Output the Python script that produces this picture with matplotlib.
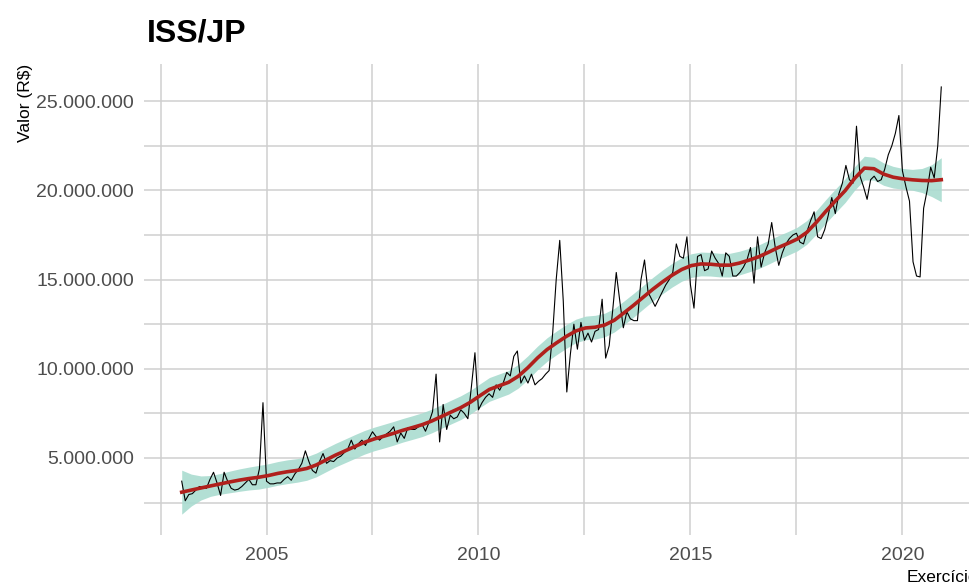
import numpy as np
import matplotlib
matplotlib.use('Agg')
import matplotlib.pyplot as plt
from matplotlib.ticker import FuncFormatter, MultipleLocator

plt.rcParams['font.family'] = ['Liberation Sans', 'DejaVu Sans']

# Arrecadação mensal de ISS (milhões de R$), jan/2003 a dez/2020
ANOS = list(range(2003, 2021))
iss_mensal = [
    [3.7, 2.6, 2.95, 3.0, 3.2, 3.4, 3.35, 3.3, 3.8, 4.2, 3.6, 2.9],        # 2003
    [4.2, 3.7, 3.3, 3.2, 3.25, 3.4, 3.6, 3.8, 3.5, 3.5, 4.4, 8.1],        # 2004
    [3.7, 3.55, 3.55, 3.6, 3.6, 3.8, 3.95, 3.75, 4.1, 4.35, 4.7, 5.4],    # 2005
    [4.8, 4.3, 4.15, 4.8, 5.25, 4.7, 4.85, 4.8, 5.0, 5.1, 5.3, 5.5],      # 2006
    [6.0, 5.5, 5.8, 6.0, 5.7, 6.1, 6.47, 6.2, 6.0, 6.2, 6.35, 6.5],       # 2007
    [6.75, 5.9, 6.4, 6.1, 6.7, 6.6, 6.6, 6.75, 6.9, 6.5, 7.0, 7.6],       # 2008
    [9.7, 5.9, 8.0, 6.6, 7.4, 7.2, 7.3, 7.7, 7.5, 7.2, 9.0, 10.9],        # 2009
    [7.7, 8.1, 8.4, 8.6, 8.4, 9.1, 8.8, 9.2, 9.8, 9.6, 10.7, 11.0],       # 2010
    [9.2, 9.6, 9.2, 9.7, 9.1, 9.3, 9.45, 9.7, 9.9, 12.0, 15.0, 17.2],     # 2011
    [13.8, 8.7, 10.8, 12.5, 11.1, 12.6, 11.6, 12.0, 11.5, 12.1, 12.2, 13.9],  # 2012
    [10.6, 11.3, 13.3, 15.4, 13.8, 12.3, 13.2, 12.8, 12.7, 12.7, 15.0, 16.1],  # 2013
    [14.3, 13.9, 13.5, 13.9, 14.3, 14.7, 15.0, 15.4, 17.0, 16.3, 16.2, 17.4],  # 2014
    [14.7, 13.4, 16.3, 16.4, 15.5, 15.6, 16.6, 16.2, 15.9, 15.2, 16.5, 16.3],  # 2015
    [15.2, 15.2, 15.4, 15.7, 16.1, 16.8, 14.8, 17.4, 15.7, 16.5, 17.0, 18.2],  # 2016
    [16.8, 15.8, 16.5, 17.0, 17.3, 17.5, 17.6, 17.1, 17.0, 17.7, 18.3, 18.8],  # 2017
    [17.4, 17.3, 17.8, 18.6, 19.6, 18.7, 19.8, 20.4, 21.4, 20.6, 20.4, 23.6],  # 2018
    [20.8, 20.2, 19.5, 20.6, 20.8, 20.5, 20.6, 21.2, 22.0, 22.5, 23.2, 24.2],  # 2019
    [21.1, 20.2, 19.4, 16.0, 15.2, 15.15, 19.0, 20.0, 21.3, 20.7, 22.5, 25.8],  # 2020
]

SPAN = 0.2

COR_LINHA = '#000000'
COR_SUAVE = '#b0201c'
COR_BANDA = '#aadcd0'
COR_GRADE = '#cfcfcf'
COR_TICK = '#4d4d4d'


def loess(x, y, xs, span):
    """Regressão local quadrática (pesos tricúbicos), com erro padrão."""
    n = len(x)
    q = int(np.floor(span * n))

    def pesos(x0):
        d = np.abs(x - x0)
        h = np.sort(d)[q - 1]
        w = np.clip(1 - (d / h) ** 3, 0, None) ** 3
        X = np.column_stack([np.ones(n), x - x0, (x - x0) ** 2])
        W = X * w[:, None]
        return np.linalg.solve(X.T @ W, W.T)[0]

    L_obs = np.array([pesos(x0) for x0 in x])
    resid = y - L_obs @ y
    M = np.eye(n) - L_obs
    delta1 = np.trace(M.T @ M)
    sigma = np.sqrt(np.sum(resid ** 2) / delta1)

    L = np.array([pesos(x0) for x0 in xs])
    fit = L @ y
    se = sigma * np.sqrt(np.sum(L ** 2, axis=1))
    return fit, se


def main():
    valores = np.array(iss_mensal).ravel() * 1e6
    tempo = np.array([a + m / 12 for a in ANOS for m in range(12)])

    grade = np.linspace(tempo.min(), tempo.max(), 80)
    ajuste, se = loess(tempo, valores, grade, SPAN)
    inf, sup = ajuste - 1.97 * se, ajuste + 1.97 * se

    fig = plt.figure(figsize=(9.7, 5.85), dpi=100)
    ax = fig.add_axes([0.148, 0.086, 0.861, 0.805])

    ax.fill_between(grade, inf, sup, color=COR_BANDA, alpha=0.9, lw=0, zorder=2)
    ax.plot(tempo, valores, color=COR_LINHA, lw=0.8, zorder=3)
    ax.plot(grade, ajuste, color=COR_SUAVE, lw=2.6, zorder=4)

    ax.set_xlim(2002.1, 2021.8)
    ax.set_ylim(0.7e6, 27.1e6)

    ax.xaxis.set_major_locator(MultipleLocator(5))
    ax.xaxis.set_minor_locator(MultipleLocator(2.5))
    ax.yaxis.set_major_locator(MultipleLocator(5e6))
    ax.yaxis.set_minor_locator(MultipleLocator(2.5e6))
    ax.yaxis.set_major_formatter(FuncFormatter(lambda v, p: f'{v:,.0f}'.replace(',', '.')))

    ax.grid(which='both', color=COR_GRADE, lw=1.1)
    ax.set_axisbelow(True)
    for s in ax.spines.values():
        s.set_visible(False)
    ax.tick_params(which='both', length=0, labelsize=14, labelcolor=COR_TICK)
    ax.tick_params(axis='y', pad=7)
    ax.tick_params(axis='x', pad=9)

    ax.set_ylabel('Valor (R$)', loc='top', fontsize=12.5, labelpad=2)
    ax.set_xlabel('Exercício', loc='right', fontsize=12.5, labelpad=4)

    fig.text(147 / 970, 1 - 42 / 585, 'ISS/JP', fontsize=23, fontweight='bold',
             ha='left', va='baseline')

    fig.savefig('out.png', dpi=100)


if __name__ == '__main__':
    main()
